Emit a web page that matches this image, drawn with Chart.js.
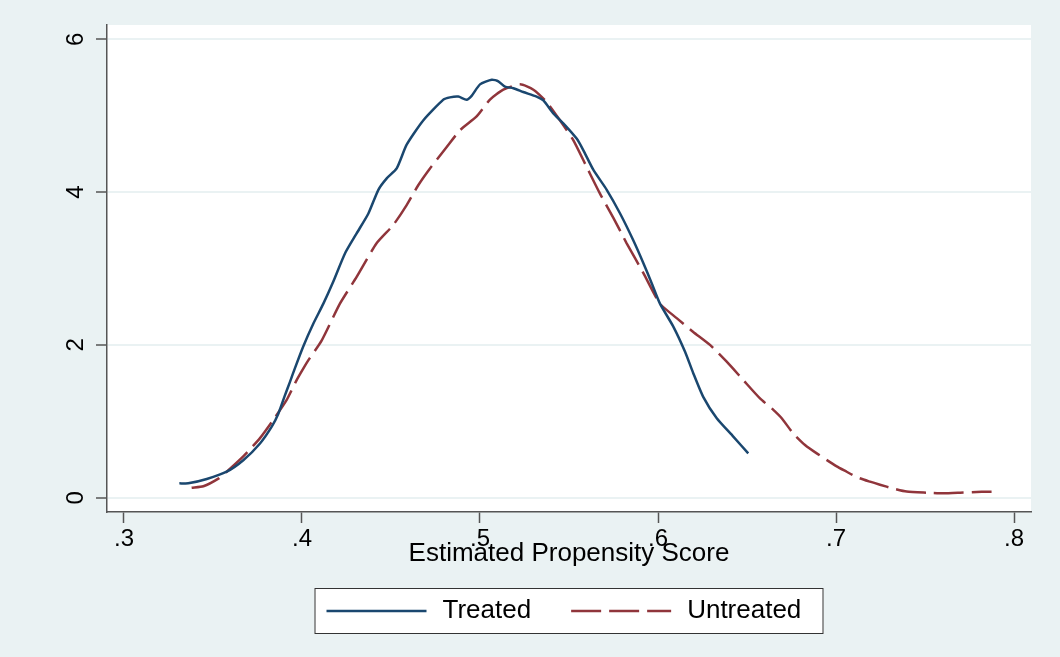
<!doctype html>
<html lang="en">
  <head>
    <meta charset="UTF-8" />
    <title>Estimated Propensity Score</title>
    <script src="https://cdn.jsdelivr.net/npm/chart.js"></script>
    <style>
      html,
      body {
        margin: 0;
        padding: 0;
        background: #eaf2f3;
      }
      canvas {
        display: block;
      }
    </style>
  </head>
  <body>
    <canvas id="psChart" width="1060" height="657"></canvas>
    <script>
      // kernel density curves
      var treated_x = [
        0.3311, 0.3361, 0.3465, 0.3577, 0.367, 0.3764, 0.383, 0.3867, 0.3904,
        0.3933, 0.3961, 0.4007, 0.4064, 0.412, 0.4176, 0.4242, 0.4307, 0.4373,
        0.4429, 0.4476, 0.4532, 0.4588, 0.4682, 0.4794, 0.4831, 0.4878, 0.4925,
        0.4953, 0.5, 0.5066, 0.5103, 0.514, 0.5187, 0.5243, 0.5318, 0.5356,
        0.5412, 0.5468, 0.5543, 0.558, 0.5637, 0.5712, 0.5787, 0.5861, 0.5918,
        0.5964, 0.6011, 0.6086, 0.6152, 0.6198, 0.6254, 0.633, 0.6423, 0.6507,
      ];
      var treated_y = [
        0.188, 0.188, 0.245, 0.34, 0.49, 0.71, 0.93, 1.1, 1.34, 1.52, 1.7,
        1.98, 2.28, 2.54, 2.83, 3.2, 3.46, 3.72, 4.03, 4.18, 4.31, 4.62, 4.94,
        5.21, 5.24, 5.25, 5.21, 5.26, 5.41, 5.47, 5.45, 5.38, 5.36, 5.31, 5.25,
        5.2, 5.03, 4.9, 4.7, 4.55, 4.29, 4.03, 3.72, 3.37, 3.07, 2.81, 2.54,
        2.24, 1.91, 1.63, 1.32, 1.04, 0.8, 0.58,
      ];
      var untreated_x = [
        0.338, 0.3446, 0.353, 0.3577, 0.367, 0.3764, 0.3839, 0.3914, 0.397,
        0.4007, 0.4036, 0.4111, 0.4213, 0.4307, 0.4419, 0.4513, 0.4588, 0.4653,
        0.4719, 0.4813, 0.4888, 0.4981, 0.5056, 0.5131, 0.5225, 0.53, 0.5374,
        0.5449, 0.5524, 0.5599, 0.5674, 0.575, 0.5824, 0.5918, 0.6011, 0.6105,
        0.6198, 0.6292, 0.6386, 0.6479, 0.6573, 0.6648, 0.6695, 0.676, 0.6826,
        0.6892, 0.7004, 0.706, 0.7116, 0.7191, 0.7247, 0.7322, 0.7397, 0.751,
        0.7603, 0.7697, 0.7818, 0.7874,
      ];
      var untreated_y = [
        0.13, 0.15, 0.25, 0.34, 0.54, 0.78, 1.02, 1.28, 1.54, 1.69, 1.8, 2.06,
        2.54, 2.89, 3.33, 3.57, 3.83, 4.09, 4.31, 4.59, 4.81, 4.99, 5.21, 5.34,
        5.41, 5.34, 5.18, 4.94, 4.68, 4.33, 3.98, 3.66, 3.33, 2.94, 2.54, 2.35,
        2.17, 2.0, 1.78, 1.54, 1.3, 1.15, 1.04, 0.84, 0.69, 0.58, 0.41, 0.34,
        0.27, 0.21, 0.17, 0.12, 0.08, 0.065, 0.057, 0.065, 0.078, 0.078,
      ];

      var x_ticks = [0.3, 0.4, 0.5, 0.6, 0.7, 0.8];
      var x_tick_labels = [".3", ".4", ".5", ".6", ".7", ".8"];
      var y_ticks = [0, 2, 4, 6];
      var y_tick_labels = ["0", "2", "4", "6"];

      var FONT = "'Liberation Sans', Arial, Helvetica, sans-serif";

      function toPoints(xs, ys) {
        return xs.map(function (x, i) {
          return { x: x, y: ys[i] };
        });
      }

      // white plot region on the blue-grey graph region
      var plotBackground = {
        id: "plotBackground",
        beforeDraw: function (chart) {
          var a = chart.chartArea;
          var ctx = chart.ctx;
          ctx.save();
          ctx.fillStyle = "#ffffff";
          ctx.fillRect(a.left, a.top, a.right - a.left, a.bottom - a.top);
          ctx.restore();
        },
      };

      // rotated y labels and the boxed legend below the axis title
      var stataExtras = {
        id: "stataExtras",
        afterDraw: function (chart) {
          var ctx = chart.ctx;
          var ys = chart.scales.y;
          var a = chart.chartArea;
          ctx.save();
          ctx.fillStyle = "#000000";
          ctx.font = "24px " + FONT;
          ctx.textAlign = "center";
          ctx.textBaseline = "alphabetic";
          y_ticks.forEach(function (v, i) {
            ctx.save();
            ctx.translate(ys.right - 24, ys.getPixelForValue(v));
            ctx.rotate(-Math.PI / 2);
            ctx.fillText(y_tick_labels[i], 0, 0);
            ctx.restore();
          });

          var boxW = 509;
          var boxH = 46;
          var boxTop = 588;
          var left = (a.left + a.right) / 2 - boxW / 2;
          ctx.fillStyle = "#ffffff";
          ctx.fillRect(left, boxTop, boxW, boxH);
          ctx.strokeStyle = "#333333";
          ctx.lineWidth = 1;
          ctx.strokeRect(left + 0.5, boxTop + 0.5, boxW - 1, boxH - 1);

          var midY = boxTop + boxH / 2;
          var x = left + 12;
          ctx.font = "26px " + FONT;
          ctx.textAlign = "left";
          ctx.textBaseline = "middle";
          chart.data.datasets.forEach(function (ds) {
            ctx.strokeStyle = ds.borderColor;
            ctx.lineWidth = ds.borderWidth;
            ctx.setLineDash(ds.borderDash || []);
            ctx.beginPath();
            ctx.moveTo(x, midY);
            ctx.lineTo(x + 100, midY);
            ctx.stroke();
            ctx.setLineDash([]);
            ctx.fillStyle = "#000000";
            ctx.fillText(ds.label, x + 116, midY);
            x += 116 + ctx.measureText(ds.label).width + 40;
          });
          ctx.restore();
        },
      };

      var ctx = document.getElementById("psChart").getContext("2d");
      var psChart = new Chart(ctx, {
        type: "line",
        data: {
          datasets: [
            {
              label: "Treated",
              data: toPoints(treated_x, treated_y),
              borderColor: "#1a476f",
              borderWidth: 2.5,
              fill: false,
            },
            {
              label: "Untreated",
              data: toPoints(untreated_x, untreated_y),
              borderColor: "#90353b",
              borderWidth: 2.5,
              borderDash: [30, 8],
              fill: false,
            },
          ],
        },
        options: {
          responsive: false,
          animation: false,
          layout: { padding: { top: 25, right: 29, left: 0, bottom: 0 } },
          elements: {
            point: { radius: 0 },
            line: { tension: 0.2 },
          },
          plugins: {
            legend: { display: false },
            tooltip: { enabled: false },
          },
          scales: {
            x: {
              type: "linear",
              min: 0.29045,
              max: 0.80955,
              afterBuildTicks: function (scale) {
                scale.ticks = x_ticks.map(function (v) {
                  return { value: v };
                });
              },
              afterFit: function (scale) {
                scale.height = 145;
              },
              grid: {
                drawOnChartArea: false,
                tickLength: 11,
                tickColor: "#555555",
                tickWidth: 1.5,
              },
              border: { color: "#555555", width: 1.5 },
              ticks: {
                padding: 2,
                color: "#000000",
                maxRotation: 0,
                autoSkip: false,
                font: { size: 24, family: FONT },
                callback: function (v, i) {
                  return x_tick_labels[i];
                },
              },
              title: {
                display: true,
                text: "Estimated Propensity Score",
                color: "#000000",
                font: { size: 26, family: FONT },
                padding: { top: 0, bottom: 88 },
              },
            },
            y: {
              type: "linear",
              min: -0.187,
              max: 6.187,
              afterBuildTicks: function (scale) {
                scale.ticks = y_ticks.map(function (v) {
                  return { value: v };
                });
              },
              afterFit: function (scale) {
                scale.width = 107;
              },
              grid: {
                color: "#eaf2f3",
                lineWidth: 2,
                tickLength: 11,
                tickColor: "#555555",
                tickWidth: 1.5,
              },
              border: { color: "#555555", width: 1.5 },
              ticks: { display: false },
            },
          },
        },
        plugins: [plotBackground, stataExtras],
      });
    </script>
  </body>
</html>
